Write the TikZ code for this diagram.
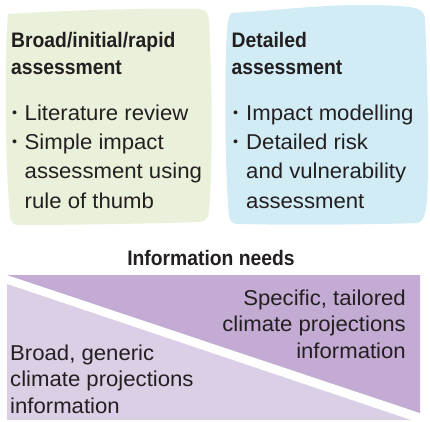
\documentclass[tikz,border=0pt]{standalone}
\usepackage{fontspec}
\newfontfamily\bodyfont{Liberation Sans}[FakeStretch=1.03]
\newfontfamily\headfont{Liberation Sans}[FakeStretch=0.92]
\definecolor{ink}{HTML}{231F20}
\definecolor{sage}{HTML}{E9F1DA}
\definecolor{sky}{HTML}{D1ECF5}
\definecolor{plumdark}{HTML}{C4ABD4}
\definecolor{plumlight}{HTML}{DBCFE6}
\tikzset{
  head/.style={anchor=base west, inner sep=0pt, text=ink,
    font=\headfont\bfseries\fontsize{21}{21}\selectfont},
  body/.style={anchor=base west, inner sep=0pt, text=ink,
    font=\bodyfont\fontsize{21.5}{21.5}\selectfont},
  bodyr/.style={body, anchor=base east},
  dot/.style={anchor=base west, inner sep=0pt, text=ink,
    font=\bodyfont\fontsize{14}{14}\selectfont}
}
\begin{document}
\begin{tikzpicture}[x=1pt,y=-1pt]
\useasboundingbox (0,0) rectangle (430,421);

% rapid assessment panel
\fill[sage] (8,14) .. controls (70,10) and (150,8) .. (200,9)
  .. controls (206,10) and (209,14) .. (209,22)
  .. controls (212,80) and (213,160) .. (209,212)
  .. controls (208,219) and (205,222) .. (198,222)
  .. controls (140,224) and (60,225) .. (18,225)
  .. controls (13,225) and (11,222) .. (10,216)
  .. controls (5,160) and (4,60) .. (8,14) -- cycle;

% detailed assessment panel
\fill[sky] (232,13) .. controls (280,10) and (320,5) .. (360,5)
  .. controls (390,5) and (410,6) .. (418,9)
  .. controls (423,11) and (425,14) .. (425,20)
  .. controls (428,80) and (429,170) .. (427,200)
  .. controls (426,212) and (424,221) .. (418,223)
  .. controls (360,225) and (280,225) .. (238,224)
  .. controls (233,224) and (230,222) .. (229,216)
  .. controls (225,170) and (224,80) .. (227,30)
  .. controls (228,20) and (229,14) .. (232,13) -- cycle;

% information needs wedges
\fill[plumdark] (7,275) -- (420,275) -- (420,413) -- cycle;
\fill[plumlight] (7,284) -- (7,420) -- (411,420) -- cycle;

% left panel text
\node[head] (lt1) at (11,47) {Broad/initial/rapid};
\node[head] (lt2) at (11,74) {assessment};
\node[dot]  (lb1) at (12,117.5) {•};
\node[body] (la1) at (24.5,120) {Literature review};
\node[dot]  (lb2) at (12,146.8) {•};
\node[body] (la2) at (24.5,149.3) {Simple impact};
\node[body] (la3) at (24.5,178.7) {assessment using};
\node[body] (la4) at (24.5,208) {rule of thumb};

% right panel text
\node[head] (rt1) at (231.5,47) {Detailed};
\node[head] (rt2) at (231.5,74) {assessment};
\node[dot]  (rb1) at (233,117.5) {•};
\node[body] (ra1) at (246,120) {Impact modelling};
\node[dot]  (rb2) at (233,146.8) {•};
\node[body] (ra2) at (246,149.3) {Detailed risk};
\node[body] (ra3) at (246,178.7) {and vulnerability};
\node[body] (ra4) at (246,208) {assessment};

% information needs
\node[head, anchor=base] (need) at (211,265) {Information needs};
\node[bodyr] (s1) at (406,305) {Specific, tailored};
\node[bodyr] (s2) at (406,331.7) {climate projections};
\node[bodyr] (s3) at (406,358.3) {information};
\node[body] (g1) at (10,360) {Broad, generic};
\node[body] (g2) at (10,386.7) {climate projections};
\node[body] (g3) at (10,413) {information};
\end{tikzpicture}
\end{document}
